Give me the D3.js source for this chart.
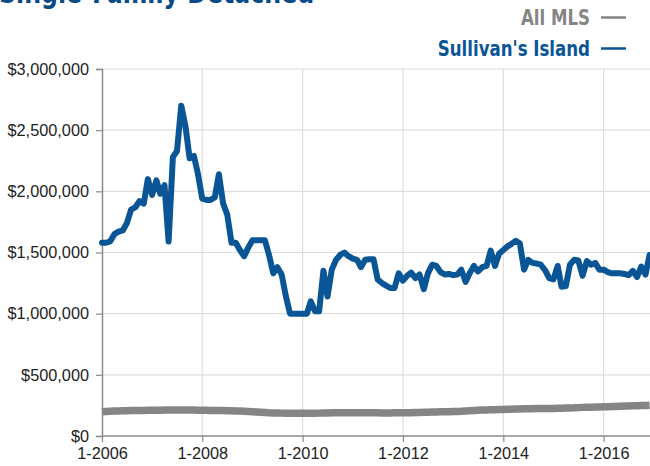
<!DOCTYPE html>
<html>
<head>
<meta charset="utf-8">
<script src="https://cdn.jsdelivr.net/npm/d3@7"></script>
<style>
  body { margin: 0; background: #fff; }
  svg { display: block; }
</style>
</head>
<body>
<div id="chart"></div>
<script>
// Precio mediano mensual, enero 2006 - diciembre 2016
const startMonth = "2006-01";
const seriesNames = ["All MLS", "Sullivan's Island"];
const seriesColors = ["#858585", "#0a5595"];

// Sullivan's Island (dólares)
const sullivans = [
  1580000,1580000,1590000,1650000,1670000,1680000,1740000,1850000,1870000,1920000,1900000,2100000,
  1970000,2090000,1980000,2050000,1590000,2280000,2330000,2700000,2530000,2270000,2290000,2140000,
  1940000,1930000,1930000,1950000,2140000,1900000,1810000,1580000,1580000,1520000,1470000,1540000,
  1600000,1600000,1600000,1600000,1480000,1330000,1380000,1320000,1140000,1000000,1000000,1000000,
  1000000,1000000,1100000,1020000,1020000,1350000,1140000,1360000,1440000,1480000,1500000,1470000,
  1450000,1440000,1380000,1440000,1445000,1445000,1280000,1250000,1230000,1210000,1210000,1330000,
  1270000,1310000,1335000,1290000,1320000,1200000,1330000,1400000,1390000,1340000,1320000,1325000,
  1315000,1320000,1360000,1260000,1330000,1390000,1345000,1380000,1390000,1515000,1390000,1490000,
  1520000,1550000,1570000,1595000,1575000,1360000,1440000,1415000,1410000,1400000,1355000,1290000,
  1280000,1390000,1220000,1225000,1400000,1440000,1435000,1310000,1430000,1400000,1415000,1360000,
  1360000,1340000,1330000,1330000,1330000,1325000,1315000,1350000,1300000,1385000,1320000,1480000
];

// All MLS (dólares)
const allMls = [
  198000,200000,202000,204000,205000,206000,207000,208000,208000,209000,209000,210000,
  210000,211000,211000,212000,212000,213000,213000,213000,212000,212000,212000,211000,
  210000,210000,209000,209000,208000,208000,207000,206000,205000,204000,202000,200000,
  198000,196000,194000,192000,190000,189000,188000,187000,186000,186000,185000,185000,
  185000,185000,186000,186000,187000,188000,189000,190000,190000,190000,190000,190000,
  190000,190000,190000,190000,190000,190000,190000,189000,189000,189000,190000,190000,
  190000,190000,191000,192000,193000,194000,195000,196000,197000,198000,198000,199000,
  200000,201000,202000,204000,206000,208000,210000,212000,213000,214000,215000,216000,
  217000,218000,219000,220000,221000,222000,223000,223000,224000,224000,225000,225000,
  225000,226000,227000,228000,229000,230000,232000,234000,235000,236000,237000,238000,
  239000,240000,241000,242000,244000,245000,246000,247000,248000,249000,250000,252000
];

const yTicks = [0, 500000, 1000000, 1500000, 2000000, 2500000, 3000000];
const xTickYears = [2006, 2008, 2010, 2012, 2014, 2016];

// Dimensiones
const W = 650, H = 466;
const marginLeft = 102, marginTop = 69, plotRight = 649.6, plotBottom = 436;
const condFont = "'Liberation Sans Narrow', 'DejaVu Sans Condensed', sans-serif";
const tickFont = "'Liberation Sans', Arial, Helvetica, sans-serif";

const parseMonth = d3.timeParse("%Y-%m");
const t0 = parseMonth(startMonth);
const dates = sullivans.map((_, i) => d3.timeMonth.offset(t0, i));

const x = d3.scaleTime()
  .domain([dates[0], dates[dates.length - 1]])
  .range([marginLeft, plotRight]);

const y = d3.scaleLinear()
  .domain([0, 3000000])
  .range([plotBottom, marginTop]);

const svg = d3.select("#chart").append("svg")
  .attr("width", W)
  .attr("height", H);

// Título (cortado arriba, como en la imagen original)
svg.append("text")
  .attr("transform", "translate(-1,3) scale(0.85,1)")
  .style("font-family", condFont)
  .style("font-weight", "bold")
  .style("font-size", "31px")
  .attr("fill", "#0a4a86")
  .text("Single-Family Detached");

// Leyenda
const legend = svg.append("g");
seriesNames.forEach((name, i) => {
  const ly = 25 + i * 31;
  legend.append("text")
    .attr("transform", `translate(590,${ly}) scale(0.88,1)`)
    .attr("text-anchor", "end")
    .style("font-family", condFont)
    .style("font-weight", "bold")
    .style("font-size", "21px")
    .attr("fill", seriesColors[i])
    .text(name);
  legend.append("line")
    .attr("x1", 601).attr("x2", 626)
    .attr("y1", ly - 7.5).attr("y2", ly - 7.5)
    .attr("stroke", seriesColors[i])
    .attr("stroke-width", 2.5);
});

// Rejilla
const grid = svg.append("g").attr("stroke", "#dedede").attr("stroke-width", 1.2);
grid.selectAll("line.h")
  .data(yTicks.slice(1))
  .join("line")
  .attr("class", "h")
  .attr("x1", marginLeft).attr("x2", W)
  .attr("y1", d => y(d)).attr("y2", d => y(d));
grid.selectAll("line.v")
  .data(xTickYears.slice(1))
  .join("line")
  .attr("class", "v")
  .attr("x1", d => x(new Date(d, 0, 1))).attr("x2", d => x(new Date(d, 0, 1)))
  .attr("y1", marginTop).attr("y2", plotBottom);

// Ejes
const yAxis = svg.append("g")
  .attr("transform", `translate(${marginLeft},0)`)
  .call(d3.axisLeft(y)
    .tickValues(yTicks)
    .tickSize(6)
    .tickPadding(7)
    .tickFormat(d => "$" + d3.format(",")(d)));

const xAxis = svg.append("g")
  .attr("transform", `translate(0,${plotBottom})`)
  .call(d3.axisBottom(x)
    .tickValues(xTickYears.map(yr => new Date(yr, 0, 1)))
    .tickSize(6)
    .tickPadding(5)
    .tickFormat(d3.timeFormat("%-m-%Y")));

[yAxis, xAxis].forEach(a => {
  a.attr("font-family", tickFont).attr("font-size", 16.3);
  a.selectAll("text")
    .style("font-family", tickFont)
    .style("font-size", "16.3px")
    .attr("fill", "#222");
  a.select(".domain").attr("stroke", "#8c8c8c").attr("stroke-width", 1.5);
  a.selectAll(".tick line").attr("stroke", "#8c8c8c").attr("stroke-width", 1.2);
});
xAxis.select(".domain").attr("d", `M${marginLeft},0H${W}`);

// Líneas
const line = d3.line()
  .x((d, i) => x(dates[i]))
  .y(d => y(d));

svg.append("path")
  .datum(allMls)
  .attr("fill", "none")
  .attr("stroke", seriesColors[0])
  .attr("stroke-width", 7.5)
  .attr("stroke-linejoin", "round")
  .attr("d", line);

svg.append("path")
  .datum(sullivans)
  .attr("fill", "none")
  .attr("stroke", seriesColors[1])
  .attr("stroke-width", 6)
  .attr("stroke-linejoin", "round")
  .attr("stroke-linecap", "round")
  .attr("d", line);
</script>
</body>
</html>
